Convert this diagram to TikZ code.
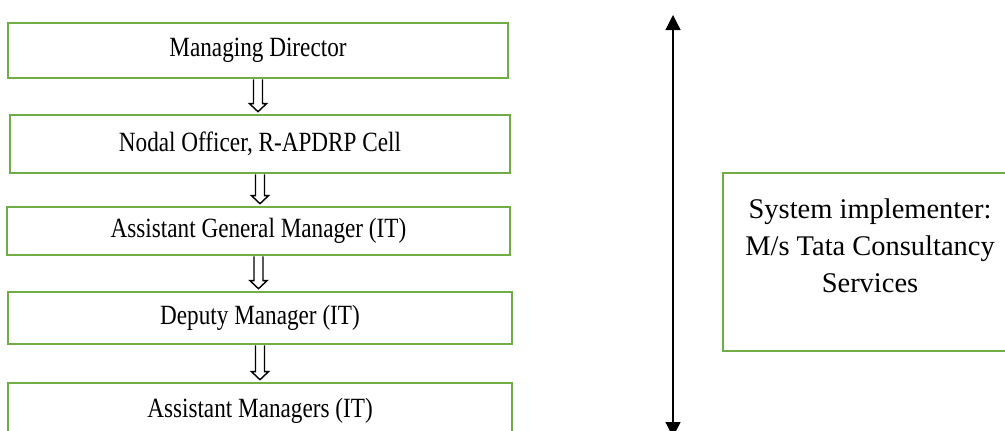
\documentclass[tikz,border=0pt]{standalone}
\usepackage{fontspec}
\setmainfont{Liberation Serif}
\usepackage{tikz}
\usetikzlibrary{arrows.meta, calc}

\definecolor{boxgreen}{HTML}{70AD47}

% post titles are set a little taller than wide
\newcommand{\posttitle}[1]{\scalebox{1}[1.2]{#1}}

\tikzset{
	post/.style={draw=boxgreen, line width=1.5pt, inner sep=0pt,
		font=\fontsize{13.2}{16}\selectfont},
	hollow/.style={line width=0.8pt, line join=miter}
}

\begin{document}
\begin{tikzpicture}
		\clip (0, 0) rectangle (20.1, -8.6);

		% chain of posts
		\node [post, minimum width=10cm, minimum height=1.1cm] (md) at (5.16, -1.01) {\posttitle{Managing Director}};
		\node [post, minimum width=10cm, minimum height=1.16cm] (nodal) at (5.2, -2.88) {\posttitle{Nodal Officer, R-APDRP Cell}};
		\node [post, minimum width=10.06cm, minimum height=0.96cm] (agm) at (5.17, -4.62) {\posttitle{Assistant General Manager (IT)}};
		\node [post, minimum width=10.08cm, minimum height=1.04cm] (dm) at (5.2, -6.36) {\posttitle{Deputy Manager (IT)}};
		\node [post, minimum width=10.08cm, minimum height=1.1cm] (am) at (5.2, -8.21) {\posttitle{Assistant Managers (IT)}};

		% open arrows between posts
		\foreach \a/\b in {md/nodal, nodal/agm, agm/dm, dm/am} {
			\draw [hollow] ($(\a.south) + (-0.09, 0)$)
				-- ($(\a.south |- \b.north) + (-0.09, 0.2)$)
				-- ++(-0.08, 0)
				-- ($(\a.south |- \b.north) + (0, 0.04)$)
				-- ($(\a.south |- \b.north) + (0.17, 0.2)$)
				-- ++(-0.08, 0)
				-- ($(\a.south) + (0.09, 0)$);
		}

		% span of the implementer
		\coordinate (top) at (13.46, -0.3);
		\coordinate (bot) at (13.46, -8.74);
		\draw [line width=0.7pt, {Triangle[width=0.3cm, length=0.3cm]}-{Triangle[width=0.3cm, length=0.3cm]}] (top) -- (bot);

		\node [post, minimum width=5.7cm, minimum height=3.56cm] (tcs) at (17.31, -5.24) {};
		\node [align=center, font=\fontsize{16.2}{21}\selectfont] (tcstext) at (17.4, -4.92)
			{System implementer:\\M/s Tata Consultancy\\Services};
	\end{tikzpicture}
\end{document}
